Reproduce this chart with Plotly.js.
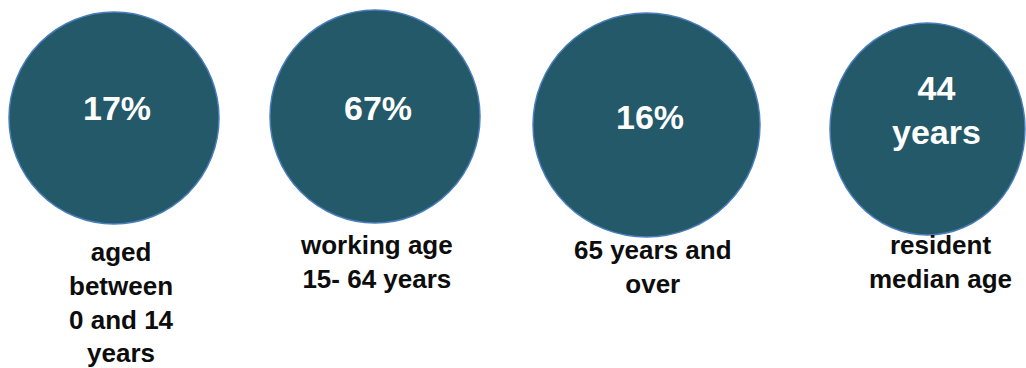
<!DOCTYPE html>
<html>
<head>
<meta charset="utf-8">
<script src="https://cdn.plot.ly/plotly-3.0.1.min.js"></script>
<style>html,body{margin:0;padding:0;background:#fff;}#chart{width:1026px;height:368px;}</style>
</head>
<body>
<div id="chart"></div>
<script>
// Data
const values = [17, 67, 16, 44];
const units = ['%', '%', '%', '<br>years'];
const labels = ['aged<br>between<br>0 and 14<br>years', 'working age<br>15- 64 years', '65 years and<br>over', 'resident<br>median age'];

// Layout (pixel-based placement)
const layoutCfg = {
  cx: [114, 375, 646.5, 927.5],
  cy: [118, 116.5, 125, 129],
  rx: [105, 105, 113.5, 97.5],
  ry: [106, 106.5, 112, 106],
  valueX: [117, 377.5, 650, 936.5],
  valueY: [108, 108, 116.5, 110],
  labelX: [121, 376.5, 653, 940],
  labelY: [302, 262, 267, 262]
};

const fill = '#235969';
const edge = '#4a7ebb';
const font = 'Liberation Sans, Arial, sans-serif';

const shapes = values.map((v, i) => ({
  type: 'circle', xref: 'x', yref: 'y',
  x0: layoutCfg.cx[i] - layoutCfg.rx[i], x1: layoutCfg.cx[i] + layoutCfg.rx[i],
  y0: layoutCfg.cy[i] - layoutCfg.ry[i], y1: layoutCfg.cy[i] + layoutCfg.ry[i],
  fillcolor: fill, line: {color: edge, width: 1.5}, layer: 'below'
}));

const annotations = [];
values.forEach((v, i) => {
  annotations.push({
    x: layoutCfg.valueX[i], y: layoutCfg.valueY[i], xref: 'x', yref: 'y',
    text: '<b>' + v + units[i] + '</b>', showarrow: false,
    xanchor: 'center', yanchor: 'middle',
    font: {family: font, size: 34, color: '#ffffff'}
  });
  annotations.push({
    x: layoutCfg.labelX[i], y: layoutCfg.labelY[i], xref: 'x', yref: 'y',
    text: '<b>' + labels[i] + '</b>', showarrow: false,
    xanchor: 'center', yanchor: 'middle', align: 'center',
    font: {family: font, size: 26, color: '#0d0d0d'}
  });
});

const trace = {
  x: layoutCfg.cx, y: layoutCfg.cy, type: 'scatter', mode: 'markers',
  marker: {size: 1, color: 'rgba(0,0,0,0)'}, hoverinfo: 'skip', showlegend: false
};

Plotly.newPlot('chart', [trace], {
  width: 1026, height: 368,
  margin: {l: 0, r: 0, t: 0, b: 0},
  paper_bgcolor: '#ffffff', plot_bgcolor: '#ffffff',
  xaxis: {range: [0, 1026], visible: false, fixedrange: true},
  yaxis: {range: [368, 0], visible: false, fixedrange: true},
  shapes: shapes, annotations: annotations, showlegend: false
}, {displayModeBar: false, staticPlot: true});
</script>
</body>
</html>
